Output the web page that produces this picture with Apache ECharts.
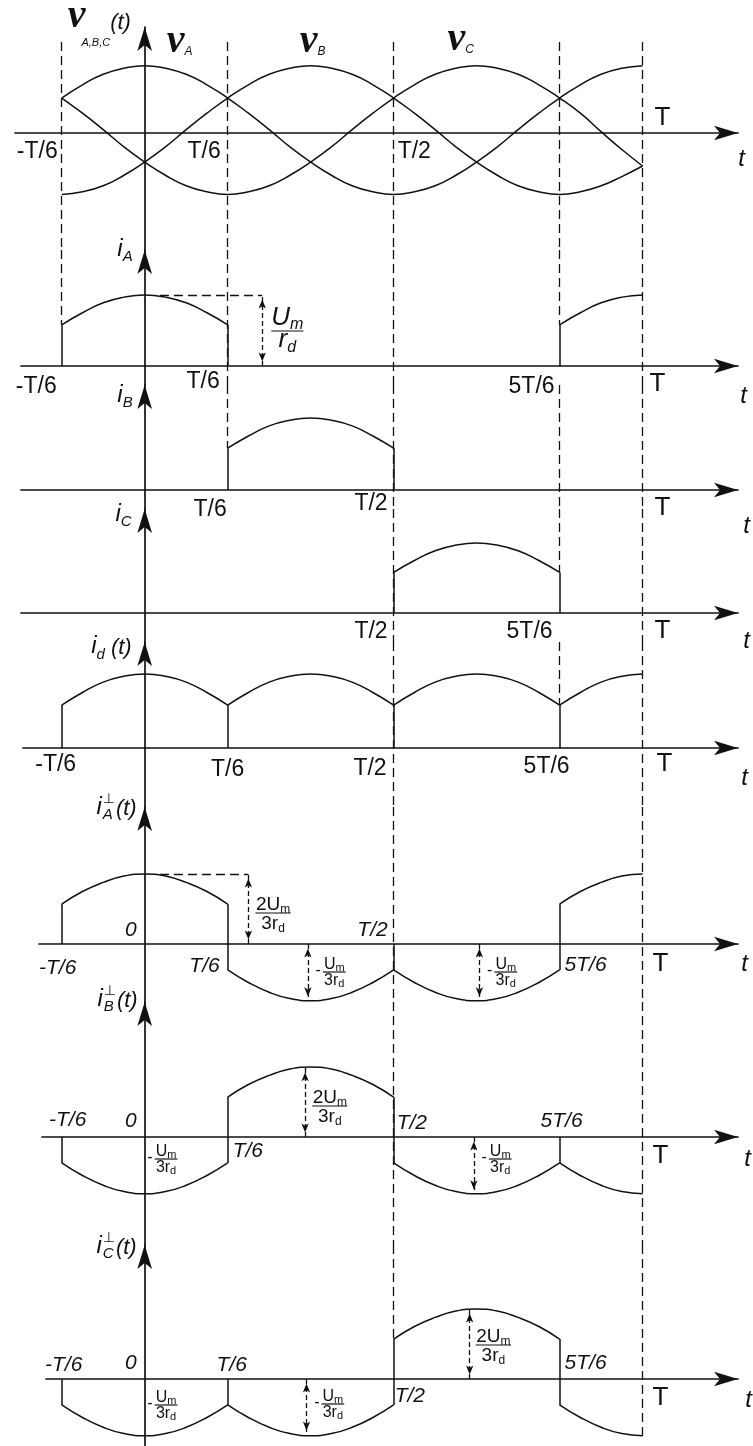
<!DOCTYPE html>
<html>
<head>
<meta charset="utf-8">
<title>Three-phase half-wave rectifier: voltages and currents</title>
<script src="https://cdn.jsdelivr.net/npm/echarts@6/dist/echarts.min.js"></script>
<style>
  html, body { margin: 0; padding: 0; background: #fff; }
  #chart { width: 753px; height: 1446px; }
</style>
</head>
<body>
<div id="chart"></div>
<script>
// ---------------- data ----------------
// time is measured as electrical angle in degrees (T = 360)
const T_TICKS = [-60, 0, 60, 180, 300, 360];
const T_TEXT  = ['-T/6', '0', 'T/6', 'T/2', '5T/6', 'T'];
const STEP = 15;                       // sampling step of the current pulses (T/24)

// phase voltages, sampled every T/24 (amplitude about 1)
const tV = [-60, -45, -30, -15, 0, 15, 30, 45, 60, 75, 90, 105, 120, 135, 150, 165, 180,
            195, 210, 225, 240, 255, 270, 285, 300, 315, 330, 345, 360];
const vA = [0.53, 0.73, 0.89, 0.98, 1.02, 0.98, 0.89, 0.73, 0.53, 0.30, 0.05, -0.21, -0.44, -0.64, -0.80,
            -0.89, -0.93, -0.89, -0.80, -0.64, -0.44, -0.21, 0.05, 0.30, 0.53, 0.73, 0.89, 0.98, 1.02];
const vB = [-0.93, -0.89, -0.80, -0.64, -0.44, -0.21, 0.05, 0.30, 0.53, 0.73, 0.89, 0.98, 1.02, 0.98, 0.89,
            0.73, 0.53, 0.30, 0.05, -0.21, -0.44, -0.64, -0.80, -0.89, -0.93, -0.89, -0.80, -0.66, -0.50];
const vC = [0.53, 0.30, 0.05, -0.21, -0.44, -0.64, -0.80, -0.89, -0.93, -0.89, -0.80, -0.64, -0.44, -0.21, 0.05,
            0.30, 0.53, 0.73, 0.89, 0.98, 1.02, 0.98, 0.89, 0.73, 0.53, 0.30, 0.02, -0.25, -0.50];

// one conduction interval (120 deg) of a line current, Um/rd = 1
const pulse       = [0.58, 0.75, 0.89, 0.97, 1.00, 0.97, 0.89, 0.75, 0.58];
const pulseHalf   = [0.58, 0.75, 0.89, 0.97, 1.00];
// positive / negative lobes of the transverse currents
const perpPos     = [0.57, 0.75, 0.88, 0.97, 1.00, 0.97, 0.88, 0.75, 0.57];
const perpPosHalf = [0.57, 0.75, 0.88, 0.97, 1.00];
const perpNeg     = [-0.37, -0.55, -0.69, -0.78, -0.81, -0.78, -0.69, -0.55, -0.37];
const perpNegHalf = [-0.37, -0.55, -0.69, -0.78, -0.81];

// waveform pieces: [start angle, samples]
const iA_arcs  = [[-60, pulse], [300, pulseHalf]];
const iB_arcs  = [[60, pulse]];
const iC_arcs  = [[180, pulse]];
const id_arcs  = [[-60, pulse], [60, pulse], [180, pulse], [300, pulseHalf]];
const iAp_arcs = [[-60, perpPos], [60, perpNeg], [180, perpNeg], [300, perpPosHalf]];
const iBp_arcs = [[-60, perpNeg], [60, perpPos], [180, perpNeg], [300, perpNegHalf]];
const iCp_arcs = [[-60, perpNeg], [60, perpNeg], [180, perpPos], [300, perpNegHalf]];

// switching edges: [angle, value before, value after]
const iA_jumps  = [[-60, 0, 0.58], [60, 0.58, 0], [300, 0, 0.58]];
const iB_jumps  = [[60, 0, 0.58], [180, 0.58, 0]];
const iC_jumps  = [[180, 0, 0.58], [300, 0.58, 0]];
const id_jumps  = [[-60, 0, 0.58], [60, 0, 0.58], [180, 0, 0.58], [300, 0, 0.58]];
const iAp_jumps = [[-60, 0, 0.57], [60, 0.57, -0.37], [180, 0, -0.37], [300, -0.37, 0.57]];
const iBp_jumps = [[-60, 0, -0.37], [60, -0.37, 0.57], [180, 0.57, -0.37], [300, 0, -0.37]];
const iCp_jumps = [[-60, 0, -0.37], [60, 0, -0.37], [180, -0.37, 0.57], [300, 0.57, -0.37]];

// dashed time markers per panel: [angle, from, to] ('top' / 'bottom' = panel edge)
const v_marks   = [[-60, 1.38, 'bottom'], [60, 1.38, 'bottom'], [180, 1.38, 'bottom'], [300, 1.38, 'bottom'], [360, 1.38, 'bottom']];
const iA_marks  = [[-60, 'top', 0.58], [60, 'top', 'bottom'], [180, 'top', 'bottom'], [300, 'top', 0.58], [360, 'top', 'bottom']];
const iB_marks  = [[60, 'top', 0.58], [180, 'top', 'bottom'], [300, 'top', 'bottom'], [360, 'top', 'bottom']];
const iC_marks  = [[180, 'top', 'bottom'], [300, 'top', 0.58], [360, 'top', 'bottom']];
const id_marks  = [[180, 'top', 'bottom'], [300, 'top', 0.58], [360, 'top', 'bottom']];
const iAp_marks = [[180, 'top', 'bottom'], [360, 'top', 'bottom']];
const iBp_marks = [[180, 'top', 'bottom'], [360, 'top', 'bottom']];
const iCp_marks = [[180, 'top', 0.57], [360, 'top', -0.81]];

// dimension arrows [angle, from, to] and dashed leaders [from angle, to angle, level]
const iA_dims   = [[85, 0, 1.00]];
const iA_lead   = [[11, 85, 1.00]];
const iAp_dims  = [[75, 0, 1.00], [118, 0, -0.81], [242, 0, -0.81]];
const iAp_lead  = [[11, 75, 1.00]];
const iBp_dims  = [[116, 0, 0.99], [238, 0, -0.81]];
const iCp_dims  = [[117, 0, -0.80], [235, 0, 1.00]];

// ---------------- layout ----------------
const W = 753, H = 1446;
const INK = '#111';
const SANS = "'Liberation Sans', Arial, 'DejaVu Sans', sans-serif";
const SERIF = "'Liberation Serif', 'Times New Roman', serif";
const X0 = 144.7, PX_PER_DEG = 1.383, AXIS_TIP = 750, ARROW = [11, 24];
const PANEL_TIP  = [15, 238, 373, 497, 630, 795, 990, 1233];
const PANEL_AXIS = [133, 366, 490, 613, 748, 944, 1137, 1379];
const PANEL_LEFT = [15, 21, 21, 21, 23, 39, 42, 46];
const PANEL_UNIT = [66, 71, 72, 70, 74, 70, 70, 70];

// ---------------- text helpers ----------------
const R = (t, st, extra) => Object.assign({ t }, st, extra || {});
const UP = { s: 23 }, IT = { s: 21, it: 1 }, BIG = { s: 26 }, TNAME = { s: 24, it: 1 };
const VSTY = { s: 40, it: 1, b: 1, f: SERIF };
const BASE_MID = 0.345;   // baseline offset from the em middle

const ctx2d = document.createElement('canvas').getContext('2d');
const fontOf = r => (r.it ? 'italic ' : 'normal ') + (r.b ? 'bold ' : 'normal ') + r.s + 'px ' + (r.f || SANS);
function setRuns(runs) {
  let x = 0, groupStart = 0; const items = [];
  runs.forEach(r => {
    ctx2d.font = fontOf(r);
    const w = ctx2d.measureText(r.t).width;
    const start = (r.stack ? groupStart : x) + (r.kx || 0);
    if (!r.stack) groupStart = start;
    items.push({ r, x: start, w });
    x = r.stack ? Math.max(x, start + w) : start + w;
  });
  return { items, width: x };
}
function textEls(runs, x0, y0, align) {
  const { items, width } = setRuns(runs);
  const shift = align === 'right' ? -width : align === 'center' ? -width / 2 : 0;
  return items.map(e => ({
    type: 'text',
    style: {
      text: e.r.t, x: x0 + shift + e.x, y: y0 + (e.r.dy || 0) - BASE_MID * e.r.s,
      fill: INK, font: fontOf(e.r),
      textAlign: 'left', textVerticalAlign: 'middle', align: 'left', verticalAlign: 'middle'
    }
  }));
}
function fracEls(F, x0, y0) {
  const n = setRuns(F.num), d = setRuns(F.den);
  const bw = Math.max(n.width, d.width) + F.pad;
  const cx = x0 + bw / 2;
  const els = [
    ...textEls(F.num, cx, y0 - F.up, 'center'),
    ...textEls(F.den, cx, y0 + F.down, 'center'),
    { type: 'line', shape: { x1: x0, y1: y0, x2: x0 + bw, y2: y0 }, style: { stroke: INK, lineWidth: 1.2 } }
  ];
  if (F.minus) els.push(...textEls([R('-', { s: F.ms })], x0 - 2, y0 + 0.27 * F.ms, 'right'));
  return els;
}

const FRAC_2UM = { num: [R('2', { s: 19 }), R('U', { s: 19 }), R('m', { s: 12, dy: 3 })],
                   den: [R('3', { s: 19 }), R('r', { s: 19 }), R('d', { s: 12, dy: 3 })], up: 2, down: 17, pad: 1 };
const FRAC_UM  = { minus: true, ms: 16, num: [R('U', { s: 16 }), R('m', { s: 11, dy: 2 })],
                   den: [R('3', { s: 16 }), R('r', { s: 16 }), R('d', { s: 11, dy: 2 })], up: 2, down: 14, pad: 2 };
const FRAC_UMRD = { num: [R('U', { s: 26, it: 1 }), R('m', { s: 16, it: 1, dy: 3 })],
                    den: [R('r', { s: 26, it: 1 }), R('d', { s: 16, it: 1, dy: 4 })], up: 4, down: 18, pad: 0 };

const iName = L => [R('i', { s: 24, it: 1 }), R(L, { s: 15, it: 1, dy: 4 })];
const perpName = L => [R('i', { s: 24, it: 1 }), R('\u22A5', { s: 14, dy: -12, kx: 1, f: "'DejaVu Sans', sans-serif" }),
                       R(L, { s: 15, it: 1, dy: 4, stack: 1 }), R('(t)', { s: 22, it: 1, kx: 1 })];
const vName = L => [R('v', VSTY), R(L, { s: 12, it: 1, dy: 1 })];

function tick(i, dx, dy, align, st) { return { at: [T_TICKS[i], 0], dx, dy, align, runs: [R(T_TEXT[i], st)] }; }
function tName(dx, dy) { return { at: [360, 0], dx, dy, align: 'center', runs: [R('t', TNAME)] }; }
function frac(t, dx, dy, F) { return { at: [t, 0], dx, dy, frac: F }; }

const LABELS = [
  [ // phase voltages
    { at: [0, 0], dx: -77, dy: -103, align: 'left',
      runs: [R('v', VSTY), R('A,B,C', { s: 11, it: 1, dy: 17, kx: -4 }), R('(t)', { s: 22, it: 1 })] },
    { at: [0, 0], dx: 22, dy: -78, align: 'left', runs: vName('A') },
    { at: [120, 0], dx: -11, dy: -78, align: 'left', runs: vName('B') },
    { at: [240, 0], dx: -29, dy: -80, align: 'left', runs: vName('C') },
    tick(0, -4, 27, 'right', UP), tick(2, -7, 27, 'right', UP), tick(3, 4, 27, 'left', UP),
    tick(5, 12, -6, 'left', BIG), tName(99, 35)
  ],
  [ // iA
    { at: [0, 0], dx: -12, dy: -108, align: 'right', runs: iName('A') },
    frac(iA_dims[0][0], 9, -35, FRAC_UMRD),
    tick(0, -5, 29, 'right', UP), tick(2, -8, 24, 'right', UP), tick(4, -5, 29, 'right', UP),
    tick(5, 7, 27, 'left', BIG), tName(101, 39)
  ],
  [ // iB
    { at: [0, 0], dx: -12, dy: -86, align: 'right', runs: iName('B') },
    tick(2, -1, 28, 'right', UP), tick(3, -6, 22, 'right', UP), tick(5, 12, 27, 'left', BIG), tName(104, 45)
  ],
  [ // iC
    { at: [0, 0], dx: -13, dy: -90, align: 'right', runs: iName('C') },
    tick(3, -6, 27, 'right', UP), tick(4, -7, 27, 'right', UP), tick(5, 12, 27, 'left', BIG), tName(104, 37)
  ],
  [ // id
    { at: [0, 0], dx: -13, dy: -93, align: 'right',
      runs: [R('i', { s: 24, it: 1 }), R('d', { s: 15, it: 1, dy: 5 }), R(' (t)', { s: 22, it: 1 })] },
    tick(0, -6, 25, 'center', UP), tick(2, 0, 30, 'center', UP), tick(3, -7, 29, 'right', UP),
    tick(4, -13, 27, 'center', UP), tick(5, 14, 25, 'left', BIG), tName(102, 39)
  ],
  [ // iA transverse
    { at: [0, 0], dx: -8, dy: -128, align: 'right', runs: perpName('A') },
    frac(iAp_dims[0][0], 7, -31, FRAC_2UM),
    tick(1, -8, -7, 'right', IT), tick(3, -6, -7, 'right', IT),
    tick(0, -4, 31, 'center', IT), tick(2, -8, 29, 'right', IT),
    frac(iAp_dims[1][0], 15, 28, FRAC_UM), frac(iAp_dims[2][0], 15, 28, FRAC_UM),
    tick(4, 5, 28, 'left', IT), tick(5, 10, 29, 'left', BIG), tName(102, 29)
  ],
  [ // iB transverse
    { at: [0, 0], dx: -7, dy: -129, align: 'right', runs: perpName('B') },
    frac(iBp_dims[0][0], 7, -31, FRAC_2UM),
    tick(0, 6, -10, 'center', IT), tick(1, -8, -9, 'right', IT),
    frac(0, 10, 22, FRAC_UM),
    tick(2, 5, 21, 'left', IT), tick(3, 3, -7, 'left', IT), tick(4, 2, -9, 'center', IT),
    frac(iBp_dims[1][0], 15, 22, FRAC_UM),
    tick(5, 10, 28, 'left', BIG), tName(105, 31)
  ],
  [ // iC transverse
    { at: [0, 0], dx: -8, dy: -124, align: 'right', runs: perpName('C') },
    tick(0, 2, -7, 'center', IT), tick(1, -8, -9, 'right', IT), tick(2, 4, -7, 'center', IT),
    frac(0, 10, 26, FRAC_UM),
    frac(iCp_dims[0][0], 15, 25, FRAC_UM), frac(iCp_dims[1][0], 6, -34, FRAC_2UM),
    tick(4, 5, -9, 'left', IT), tick(3, 1, 24, 'left', IT),
    tick(5, 10, 28, 'left', BIG), tName(106, 30)
  ]
];

const ARCS  = [null, iA_arcs, iB_arcs, iC_arcs, id_arcs, iAp_arcs, iBp_arcs, iCp_arcs];
const JUMPS = [[], iA_jumps, iB_jumps, iC_jumps, id_jumps, iAp_jumps, iBp_jumps, iCp_jumps];
const MARKS = [v_marks, iA_marks, iB_marks, iC_marks, id_marks, iAp_marks, iBp_marks, iCp_marks];
const DIMS  = [[], iA_dims, [], [], [], iAp_dims, iBp_dims, iCp_dims];
const LEADS = [[], iA_lead, [], [], [], iAp_lead, [], []];

// ---------------- option ----------------
const grid = [], xAxis = [], yAxis = [], series = [];
const axisLine = { show: true, onZero: true, symbol: ['none', 'arrow'], symbolSize: ARROW,
                   lineStyle: { color: INK, width: 1.7 } };
const curveStyle = { color: INK, width: 1.5 };
const DASH = [9, 5];

function hostSeries(i, z, markLine) {
  return { type: 'line', xAxisIndex: i, yAxisIndex: i, data: [], z, silent: true, markLine: Object.assign({
    silent: true, animation: false, symbol: ['none', 'none'], label: { show: false },
    emphasis: { disabled: true } }, markLine) };
}

for (let i = 0; i < 8; i++) {
  const top = PANEL_TIP[i] + ARROW[1] / 2;
  const bottom = i < 7 ? PANEL_TIP[i + 1] + ARROW[1] / 2 : H;
  const right = AXIS_TIP - ARROW[1] / 2;
  const left = PANEL_LEFT[i];
  const yMax = (PANEL_AXIS[i] - top) / PANEL_UNIT[i];
  const yMin = -(bottom - PANEL_AXIS[i]) / PANEL_UNIT[i];
  grid.push({ left, top, width: right - left, height: bottom - top, containLabel: false, outerBoundsMode: 'none' });
  const common = { gridIndex: i, type: 'value', axisLine, axisTick: { show: false },
                   axisLabel: { show: false }, splitLine: { show: false } };
  xAxis.push(Object.assign({ min: (left - X0) / PX_PER_DEG, max: (right - X0) / PX_PER_DEG }, common));
  yAxis.push(Object.assign({ min: yMin, max: yMax }, common));
  const edge = v => v === 'top' ? yMax : v === 'bottom' ? yMin : v;

  // curves
  if (i === 0) {
    [vA, vB, vC].forEach(vs => series.push({
      type: 'line', xAxisIndex: 0, yAxisIndex: 0, smooth: 0.5, showSymbol: false, silent: true, z: 3,
      lineStyle: curveStyle, data: tV.map((t, j) => [t, vs[j]])
    }));
  } else {
    ARCS[i].forEach(([t0, vals]) => series.push({
      type: 'line', xAxisIndex: i, yAxisIndex: i, smooth: 0.5, showSymbol: false, silent: true, z: 3,
      lineStyle: curveStyle, data: vals.map((v, j) => [t0 + j * STEP, v])
    }));
  }
  // switching edges
  if (JUMPS[i].length) series.push(hostSeries(i, 3, {
    lineStyle: { color: INK, width: 1.5, type: 'solid' },
    data: JUMPS[i].map(([t, a, b]) => [{ coord: [t, a] }, { coord: [t, b] }])
  }));
  // dashed time markers and leaders
  series.push(hostSeries(i, 1, {
    lineStyle: { color: INK, width: 1.3, type: DASH },
    data: MARKS[i].map(([t, a, b]) => [{ coord: [t, edge(a)] }, { coord: [t, edge(b)] }])
      .concat(LEADS[i].map(([t1, t2, v]) => [{ coord: [t1, v] }, { coord: [t2, v] }]))
  }));
  // dimension arrows
  if (DIMS[i].length) series.push(hostSeries(i, 2, {
    symbol: ['arrow', 'arrow'], symbolSize: [5.5, 9], symbolOffset: [[0, 4.5], [0, 4.5]],
    lineStyle: { color: INK, width: 1.3, type: [5, 3] },
    itemStyle: { color: INK },
    data: DIMS[i].map(([t, a, b]) => [{ coord: [t, a] }, { coord: [t, b] }])
  }));
  // labels
  const labels = LABELS[i];
  series.push({
    type: 'custom', xAxisIndex: i, yAxisIndex: i, silent: true, z: 5, clip: false,
    data: labels.map((L, j) => [L.at[0], L.at[1], j]),
    renderItem: (params, api) => {
      const L = labels[api.value(2)];
      const p = api.coord([api.value(0), api.value(1)]);
      const children = L.frac ? fracEls(L.frac, p[0] + L.dx, p[1] + L.dy)
                              : textEls(L.runs, p[0] + L.dx, p[1] + L.dy, L.align);
      return { type: 'group', children };
    }
  });
}

const chart = echarts.init(document.getElementById('chart'), null, { width: W, height: H });
chart.setOption({ animation: false, backgroundColor: '#fff', grid, xAxis, yAxis, series });
</script>
</body>
</html>
